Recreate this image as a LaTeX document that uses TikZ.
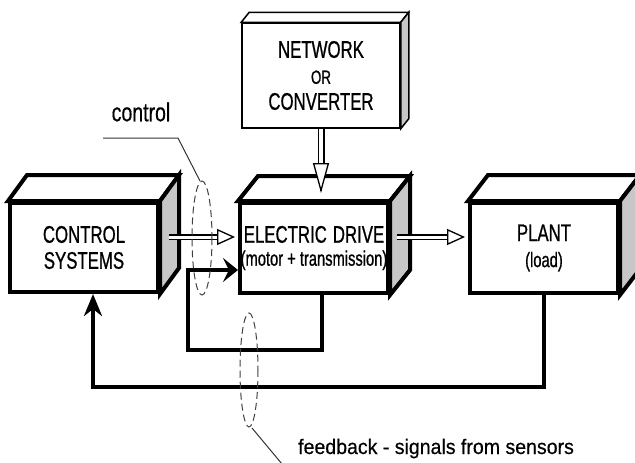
\documentclass[tikz,border=0pt]{standalone}
\usepackage{fontspec}
\usetikzlibrary{arrows.meta,calc}
\newfontfamily\narrowfont[FakeStretch=0.7,FakeBold=0.8]{Liberation Sans}
\newfontfamily\ctrlfont[FakeStretch=0.75,FakeBold=0.4]{Liberation Sans}
\newfontfamily\notefont[FakeStretch=0.93,FakeBold=0.4]{Liberation Sans}
\newcommand\boxsides[3]{%
	\draw[line width=#3,fill=white](#1.north west)--++(#2)--($(#1.north east)+(#2)$)--(#1.north east)--cycle;
	\draw[line width=#3,fill=black!22](#1.north east)--++(#2)--($(#1.south east)+(#2)$)--(#1.south east)--cycle;}
\tikzset{
	block/.style={draw,fill=white,line width=4pt,minimum width=148pt,minimum height=90pt,inner sep=0pt,align=center,
		font=\narrowfont\fontsize{24}{26}\selectfont},
	dblshaft/.style={double,double distance=3pt,line width=1.3pt},
	dblhead/.style={line width=1.3pt,-{Triangle[length=18pt,width=16pt,fill=white]}},
	fb/.style={line width=3.5pt,-{Stealth[length=22pt,width=18pt,inset=7pt]}},
	ring/.style={dashed,dash pattern=on 7pt off 4pt,line width=1pt,black!75},
	leader/.style={line width=1pt,black!80}}
\begin{document}
\begin{tikzpicture}[x=1pt,y=-1pt]
	\useasboundingbox(0,0)rectangle(635,463);
	\node[block,minimum height=89pt](ctrl)at(84,247.5){CONTROL\\SYSTEMS};
	\node[block](drive)at(314,248){ELECTRIC\hspace{6pt}DRIVE\\[-3pt]{\fontsize{21}{22}\selectfont(motor + transmission)}};
	\node[block](plant)at(544,248){PLANT\\{\fontsize{21}{22}\selectfont(load)}};
	\node[block,line width=1.5pt,minimum width=158pt,minimum height=105pt](net)at(321,75.5)
		{NETWORK\\{\fontsize{19}{20}\selectfont OR}\\CONVERTER};
	\boxsides{ctrl}{19,-26}{4pt}
	\boxsides{drive}{20,-25}{4pt}
	\boxsides{plant}{20,-26}{4pt}
	\boxsides{net}{8,-10}{1.5pt}
	\coordinate(ctrlout)at($(ctrl.east)+(9,-10.5)$);
	\coordinate(drivein)at($(drive.west)+(-3,-11)$);
	\coordinate(driveout)at($(drive.east)+(7,-11)$);
	\coordinate(plantin)at($(plant.west)+(-3,-11)$);
	\coordinate(dtop)at($(drive.north)+(0,-8)$);
	\draw[dblshaft,shorten >=14pt](ctrlout)--(drivein);
	\draw[dblhead]($(drivein)+(-2,0)$)--(drivein);
	\draw[dblshaft,shorten >=14pt](driveout)--(plantin);
	\draw[dblhead]($(plantin)+(-2,0)$)--(plantin);
	\draw[dblshaft,line width=1.5pt,double distance=4pt,shorten >=26pt](net.south)--(net.south|-dtop);
	\draw[dblhead,-{Triangle[length=30pt,width=16pt,fill=white]}]($(net.south|-dtop)+(0,-2)$)--(net.south|-dtop);
	\coordinate(loopout)at($(drive.south)+(8,0)$);
	\coordinate(loopin)at($(drive.west)+(0,22)$);
	\draw[fb,-{Stealth[length=15pt,width=24pt,inset=6pt]}](loopout)|-(188,350)|-(loopin);
	\coordinate(fbin)at($(ctrl.south)+(9,0)$);
	\draw[fb](plant.south)--++(0,92)-|(fbin);
	\draw[ring](202,238)ellipse[x radius=10,y radius=57];
	\draw[ring](249,370)ellipse[x radius=9,y radius=57];
	\node[font=\ctrlfont\fontsize{26}{26}\selectfont](ctrllabel)at(141,112){control};
	\draw[leader](103,138)--(178,138)--(200,181);
	\node[font=\notefont\fontsize{21}{21}\selectfont,anchor=base west,inner sep=0pt](fblabel)at(298,454)
		{feedback - signals from sensors};
	\draw[leader](252,428)--(287,470);
\end{tikzpicture}
\end{document}
